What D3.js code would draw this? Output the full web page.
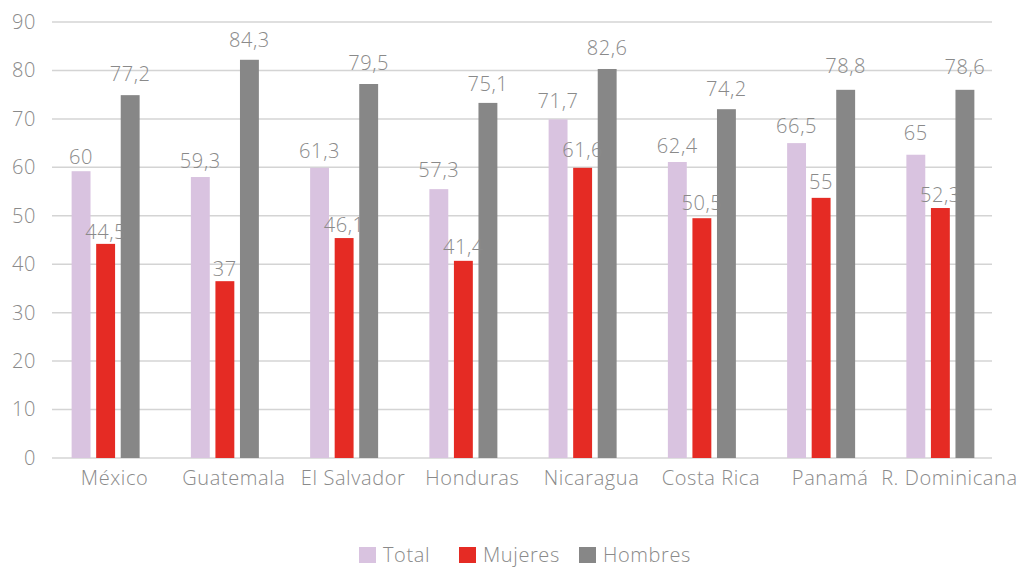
<!DOCTYPE html>
<html>
<head>
<meta charset="utf-8">
<script src="https://cdn.jsdelivr.net/npm/d3@7"></script>
<style>
  body { margin: 0; background: #fff; }
  svg text { font-family: "Open Sans", Lato, sans-serif; font-weight: 300; fill: #8a8a8a; letter-spacing: 0.6px; }
</style>
</head>
<body>
<div id="chart"></div>
<script>
var categories = ['México', 'Guatemala', 'El Salvador', 'Honduras',
  'Nicaragua', 'Costa Rica', 'Panamá', 'R. Dominicana'];

var seriesNames = ['Total', 'Mujeres', 'Hombres'];

// Bar heights as drawn in the picture.
var totalBars = [59.2, 58.0, 59.9, 55.5, 69.9, 61.1, 65.0, 62.6];
var mujeresBars = [44.2, 36.5, 45.4, 40.7, 59.9, 49.5, 53.7, 51.6];
var hombresBars = [74.9, 82.2, 77.2, 73.3, 80.3, 72.0, 76.0, 76.0];

// Printed data labels.
var totalLabels = ['60', '59,3', '61,3', '57,3', '71,7', '62,4', '66,5', '65'];
var mujeresLabels = ['44,5', '37', '46,1', '41,4', '61,6', '50,5', '55', '52,3'];
var hombresLabels = ['77,2', '84,3', '79,5', '75,1', '82,6', '74,2', '78,8', '78,6'];

var yTicks = [0, 10, 20, 30, 40, 50, 60, 70, 80, 90];

var colors = ['#d9c3e0', '#e52b24', '#878787'];

function css_function(n) {
  return n + '(' + Array.prototype.slice.call(arguments, 1).join(', ') + ')';
}

function label_value(s) {
  return +s.replace(',', '.');
}

var width = 1025;
var height = 569;

var plot = { left: 46, right: 1000, top: 22, bottom: 458, gridLeft: 52, gridRight: 992 };

var svg = d3.select('#chart').append('svg')
  .attr('width', width)
  .attr('height', height);

var x = d3.scaleBand()
  .domain(categories)
  .range([plot.left, plot.right]);

var xs = d3.scaleBand()
  .domain(seriesNames)
  .range([x.bandwidth() / 2 - 34, x.bandwidth() / 2 + 34])
  .paddingInner(0.23)
  .paddingOuter(0);

var y = d3.scaleLinear()
  .domain([0, 90])
  .range([plot.bottom, plot.top]);

// Grid lines.
svg.append('g')
  .selectAll('line')
  .data(yTicks)
  .enter()
  .append('line')
  .attr('x1', plot.gridLeft)
  .attr('x2', plot.gridRight)
  .attr('y1', function(d) { return y(d); })
  .attr('y2', function(d) { return y(d); })
  .attr('stroke', '#d4d4d4')
  .attr('stroke-width', 1.5);

// Y axis labels.
var yAxis = d3.axisLeft(y).tickValues(yTicks).tickSize(0).tickPadding(0);
var gy = svg.append('g')
  .attr('transform', css_function('translate', 36, 0))
  .call(yAxis);
gy.select('.domain').remove();
gy.selectAll('text')
  .style('font-size', '20px')
  .attr('fill', '#8a8a8a');

// X axis labels.
var xAxis = d3.axisBottom(x).tickSize(0).tickPadding(0);
var gx = svg.append('g')
  .attr('transform', css_function('translate', 0, 471))
  .call(xAxis);
gx.select('.domain').remove();
gx.selectAll('text')
  .style('font-size', '20px')
  .attr('fill', '#8a8a8a')
  .attr('dx', 9);

var series = [
  { name: 'Total', bars: totalBars, labels: totalLabels },
  { name: 'Mujeres', bars: mujeresBars, labels: mujeresLabels },
  { name: 'Hombres', bars: hombresBars, labels: hombresLabels }
];

series.forEach(function(s, si) {
  var g = svg.append('g');

  g.selectAll('rect')
    .data(categories)
    .enter()
    .append('rect')
    .attr('x', function(c) { return x(c) + xs(s.name); })
    .attr('y', function(c, i) { return y(s.bars[i]); })
    .attr('width', xs.bandwidth())
    .attr('height', function(c, i) { return y(0) - y(s.bars[i]); })
    .attr('fill', colors[si]);
});

series.forEach(function(s) {
  svg.append('g')
    .selectAll('text')
    .data(categories)
    .enter()
    .append('text')
    .attr('x', function(c) { return x(c) + xs(s.name) + xs.bandwidth() / 2; })
    .attr('y', function(c, i) { return y(label_value(s.labels[i])) - 3; })
    .attr('text-anchor', 'middle')
    .style('font-size', '20px')
    .text(function(c, i) { return s.labels[i]; });
});

// Legend.
var legendX = d3.scaleOrdinal()
  .domain(seriesNames)
  .range([359, 459, 579]);

var legend = svg.append('g')
  .selectAll('g')
  .data(seriesNames)
  .enter()
  .append('g')
  .attr('transform', function(d) { return css_function('translate', legendX(d), 547); });

legend.append('rect')
  .attr('width', 17)
  .attr('height', 16)
  .attr('fill', function(d, i) { return colors[i]; });

legend.append('text')
  .attr('x', 24)
  .attr('y', 15)
  .style('font-size', '20px')
  .text(function(d) { return d; });
</script>
</body>
</html>
